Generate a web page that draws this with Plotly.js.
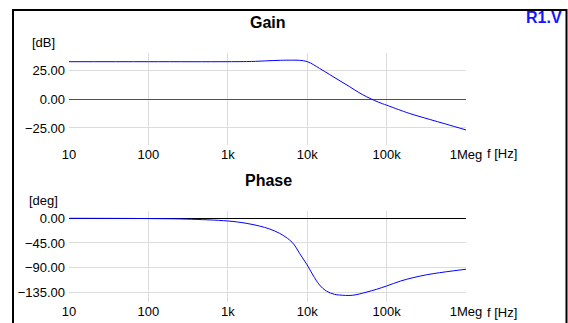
<!DOCTYPE html>
<html>
<head>
<meta charset="utf-8">
<script src="https://cdn.plot.ly/plotly-3.0.1.min.js"></script>
<style>
html,body{margin:0;padding:0;background:#fff;}
#chart{width:568px;height:323px;}
</style>
</head>
<body>
<div id="chart"></div>
<script>
// Frequency (Hz) and gain (dB)
var gainFreq = [10, 100, 1000, 2000, 3000, 4600, 6500, 8000, 10000, 12000, 14300, 19000, 25100, 33900, 44700, 56200, 70800, 89100, 100000, 141000, 193000, 344000, 562000, 1000000];
var gainDb   = [32.2, 32.2, 32.2, 32.4, 32.9, 33.4, 33.5, 33.4, 32.3, 29.6, 26.4, 21.3, 16.2, 10.8, 5.6, 1.9, -1.4, -4.1, -5.3, -9.1, -12.4, -17.5, -21.7, -26.7];

// Frequency (Hz) and phase (deg)
var phaseFreq = [10, 100, 300, 1000, 1700, 2500, 3360, 4490, 6000, 6900, 8000, 10000, 11800, 14300, 17400, 22000, 25500, 37000, 55000, 75000, 100000, 150000, 215000, 320000, 464000, 700000, 1000000];
var phaseDeg  = [0, -0.5, -1.5, -4.9, -9.1, -14.1, -19.5, -27.4, -39.6, -48.7, -63.9, -85.2, -103.5, -121.7, -132.7, -138.7, -140.0, -140.5, -135.0, -129.5, -123.5, -114.5, -108.4, -103.0, -99.3, -95.8, -93.0];

var xTickVals = [10, 100, 1000, 10000, 100000, 1000000];
var xTickText = ['10', '100', '1k', '10k', '100k', '1Meg'];
var gainTicks = [-25, 0, 25];
var phaseTicks = [-135, -90, -45, 0];

var W = 568, H = 323;
function px(x){ return x / W; }
function py(y){ return 1 - y / H; }

var FONT = 'Liberation Sans, Arial, sans-serif';

var traces = [
  {x: gainFreq, y: gainDb, xaxis: 'x', yaxis: 'y', type: 'scatter', mode: 'lines',
   line: {color: '#0000ff', width: 1, shape: 'spline', smoothing: 1}, hoverinfo: 'skip'},
  {x: phaseFreq, y: phaseDeg, xaxis: 'x2', yaxis: 'y2', type: 'scatter', mode: 'lines',
   line: {color: '#0000ff', width: 1, shape: 'spline', smoothing: 1}, hoverinfo: 'skip'}
];

function xAxis(anchor, dom){
  return {
    type: 'log', range: [1, 6], domain: dom, anchor: anchor,
    tickvals: xTickVals, ticktext: xTickText,
    showgrid: true, gridcolor: '#dcdcdc', gridwidth: 1,
    showline: false, zeroline: false, ticks: '',
    tickfont: {family: FONT, size: 13, color: '#000'},
    fixedrange: true
  };
}
function yAxis(anchor, dom, range, ticks, zc){
  return {
    range: range, domain: dom, anchor: anchor,
    tickvals: ticks, tickformat: '.2f',
    showgrid: true, gridcolor: '#dcdcdc', gridwidth: 1,
    zeroline: true, zerolinecolor: zc, zerolinewidth: 1,
    showline: false, ticks: '', ticklabelstandoff: 3,
    tickfont: {family: FONT, size: 13, color: '#000'},
    fixedrange: true
  };
}

var xd = [px(69), px(466)];
var layout = {
  width: W, height: H,
  margin: {l: 0, r: 0, t: 0, b: 0},
  paper_bgcolor: '#fff', plot_bgcolor: '#fff',
  showlegend: false,
  xaxis: xAxis('y', xd),
  yaxis: yAxis('x', [py(145), py(53)], [-39.7, 39.7], gainTicks, '#505050'),
  xaxis2: xAxis('y2', xd),
  yaxis2: yAxis('x2', [py(301.7), py(211)], [-152.2, 13.3], phaseTicks, '#000000'),
  shapes: [
    {type: 'rect', xref: 'paper', yref: 'paper', x0: px(13), x1: px(566.5), y0: -0.2, y1: py(10),
     line: {color: '#000', width: 2}, fillcolor: 'rgba(0,0,0,0)'}
  ],
  annotations: [
    {text: '<b>Gain</b>', xref: 'paper', yref: 'paper', x: px(268), y: py(22), xanchor: 'center', yanchor: 'middle',
     showarrow: false, font: {family: FONT, size: 16, color: '#000'}},
    {text: '<b>Phase</b>', xref: 'paper', yref: 'paper', x: px(268), y: py(180), xanchor: 'center', yanchor: 'middle',
     showarrow: false, font: {family: FONT, size: 16, color: '#000'}},
    {text: '<b>R1.V</b>', xref: 'paper', yref: 'paper', x: px(564), y: py(18), xanchor: 'right', yanchor: 'middle',
     showarrow: false, font: {family: FONT, size: 16, color: '#1414ff'}},
    {text: '[dB]', xref: 'paper', yref: 'paper', x: px(43), y: py(43), xanchor: 'center', yanchor: 'middle',
     showarrow: false, font: {family: FONT, size: 13, color: '#000'}},
    {text: '[deg]', xref: 'paper', yref: 'paper', x: px(43), y: py(200.5), xanchor: 'center', yanchor: 'middle',
     showarrow: false, font: {family: FONT, size: 13, color: '#000'}},
    {text: 'f [Hz]', xref: 'paper', yref: 'paper', x: px(502), y: py(154), xanchor: 'center', yanchor: 'middle',
     showarrow: false, font: {family: FONT, size: 13, color: '#000'}},
    {text: 'f [Hz]', xref: 'paper', yref: 'paper', x: px(502), y: py(312), xanchor: 'center', yanchor: 'middle',
     showarrow: false, font: {family: FONT, size: 13, color: '#000'}}
  ]
};

Plotly.newPlot('chart', traces, layout, {staticPlot: true, displayModeBar: false});
</script>
</body>
</html>
